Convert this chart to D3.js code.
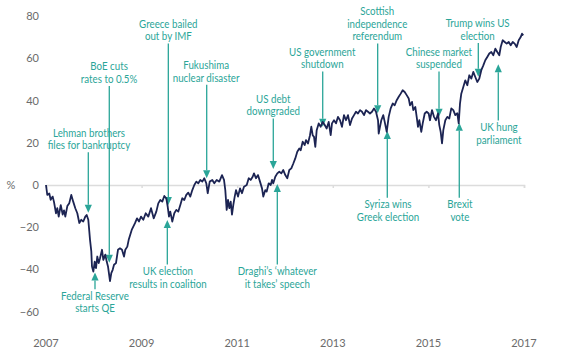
<!DOCTYPE html>
<html><head><meta charset="utf-8">
<script src="https://cdn.jsdelivr.net/npm/d3@7"></script>
<style>
body{margin:0;background:#fff;}
svg{display:block;}
</style></head><body>
<svg id="chart" width="570" height="359"></svg>
<script>
// ---- data (x in axis-years as shown on the chart, y in %) ----
const xTicks = [2007, 2009, 2011, 2013, 2015, 2017];
const yTicks = [-60, -40, -20, 0, 20, 40, 60, 80];
const dates = [0,0.027,0.069,0.098,0.140,0.167,0.209,0.236,0.266,0.308,0.349,0.377,0.404,0.446,0.487,0.529,0.571,0.613,0.655,0.697,0.738,0.780,0.822,0.851,0.885,0.906,0.921,0.948,0.962,0.990,1.019,1.046,1.073,1.103,1.130,1.172,1.199,1.241,1.270,1.297,1.339,1.366,1.395,1.423,1.464,1.506,1.548,1.590,1.632,1.659,1.701,1.730,1.793,1.862,1.904,1.946,1.987,2.036,2.086,2.140,2.197,2.253,2.308,2.349,2.391,2.433,2.475,2.517,2.546,2.573,2.600,2.642,2.684,2.726,2.768,2.810,2.851,2.893,2.935,2.977,3.019,3.061,3.103,3.144,3.186,3.228,3.270,3.312,3.354,3.383,3.425,3.479,3.521,3.571,3.626,3.682,3.724,3.751,3.780,3.808,3.835,3.864,3.891,3.918,3.948,3.975,4.017,4.059,4.100,4.142,4.199,4.241,4.282,4.324,4.351,4.393,4.435,4.477,4.519,4.546,4.588,4.617,4.659,4.701,4.728,4.755,4.797,4.839,4.881,4.923,4.964,5.006,5.048,5.090,5.132,5.174,5.215,5.257,5.299,5.328,5.370,5.412,5.439,5.481,5.523,5.550,5.579,5.607,5.634,5.663,5.705,5.747,5.789,5.831,5.872,5.914,5.956,5.983,6.025,6.067,6.109,6.151,6.192,6.234,6.276,6.318,6.360,6.402,6.444,6.485,6.527,6.569,6.611,6.653,6.695,6.736,6.778,6.820,6.862,6.904,6.946,6.960,6.987,7.015,7.056,7.086,7.128,7.169,7.211,7.253,7.295,7.337,7.379,7.421,7.462,7.504,7.546,7.588,7.615,7.657,7.684,7.726,7.755,7.782,7.810,7.851,7.881,7.923,7.964,8.006,8.033,8.075,8.117,8.159,8.201,8.228,8.257,8.285,8.312,8.354,8.395,8.437,8.479,8.521,8.563,8.605,8.634,8.661,8.688,8.730,8.772,8.814,8.856,8.897,8.939,8.981,9.023,9.065,9.107,9.149,9.190,9.232,9.274,9.316,9.358,9.400,9.441,9.483,9.513,9.554,9.596,9.638,9.680,9.722,9.764,9.805,9.847,9.889,9.931,9.958,9.985].map(d => 2007 + d);
const values = [0,-4.7,-4,-7,-5.5,-8,-13.4,-11,-15,-9.5,-14,-12,-15,-10,-8.6,-4.7,-8,-11,-13.4,-18,-16.5,-17.3,-15,-14.2,-16.5,-22,-26,-31.5,-38.6,-41,-36.3,-39.4,-33.9,-37,-34.7,-30.7,-35.5,-33,-36.3,-38.6,-45.5,-41.8,-40.2,-37.8,-37,-30.7,-30,-30.7,-33.9,-30.7,-29.2,-26,-21.3,-18.1,-15.8,-17.3,-15,-16.5,-13.4,-15,-11,-15.8,-12.6,-8.7,-7.1,-7.9,-5.2,-6.3,-10.2,-15,-12.6,-17.3,-13.4,-11.8,-12.6,-9.5,-6.3,-7.1,-4.7,-3.6,-5.5,-2.4,0,1.6,0.8,2.4,1.6,3.2,0.8,-3.9,1.6,2.4,0.8,2.4,1.6,4.7,2.4,-2.4,-11.8,-7.1,-11,-7.9,-14,-9.5,-5.5,-2.4,-5.5,-1.6,-3.9,-0.8,0,3.2,2.4,3.9,5.5,3.2,4.7,1.6,-1.6,-5.5,-2.4,-3.1,0.8,0,2.4,0.8,3.9,5.5,6.3,5.5,7.1,4.7,3.2,7.1,7.9,10.2,12.6,15.8,17.3,16.5,20.5,18.9,21.3,19.7,23.6,27.6,23.6,22.8,18.1,26,29.2,27.6,29.9,28.4,26.8,29.9,23.6,29.2,30.7,29.2,32.3,30.7,27.6,33.1,30.7,33.1,28.4,31.5,33.1,34.7,33.9,35.5,34.7,33.1,35.5,34.7,33.9,34.7,36.3,34.7,30.7,24.4,27.6,30.7,33.1,29.9,25.2,32.3,36.3,38.6,37.8,40.2,41.8,43.3,44.9,44.1,42.6,41,37.8,39.4,35.5,37,32.3,27.6,30.7,25.2,29.2,33.9,34.7,33.9,30.7,35.5,32.3,30.7,33.9,28.4,25.2,19.7,26,30.7,32.3,31.5,36.3,35.5,33.1,34,29.2,38.6,43.3,46.5,49.6,47.3,52,50.4,53.6,51.2,48.8,50.4,54.4,56.7,59.1,60.7,62.3,63,61.5,64.6,63,61.5,65.4,68.6,67.8,67,67.8,66.2,67.8,67,65.4,68.6,70.1,71.7,70.9];

// annotations: date (axis-years), label lines, first label line value (%), arrow tip value (%), direction
const annLabels = [
  ["Lehman brothers", "files for bankruptcy"],
  ["BoE cuts", "rates to 0.5%"],
  ["Federal Reserve", "starts QE"],
  ["Greece bailed", "out by IMF"],
  ["UK election", "results in coalition"],
  ["Fukushima", "nuclear disaster"],
  ["US debt", "downgraded"],
  ["Draghi\u2019s \u2018whatever", "it takes\u2019 speech"],
  ["US government", "shutdown"],
  ["Scottish", "independence", "referendum"],
  ["Syriza wins", "Greek election"],
  ["Chinese market", "suspended"],
  ["Brexit", "vote"],
  ["Trump wins US", "election"],
  ["UK hung", "parliament"]
];
const annDates  = [2007.885, 2008.324, 2008.025, 2009.559, 2009.538, 2010.362, 2011.755, 2011.839, 2012.789, 2013.939, 2014.140, 2015.222, 2015.646, 2016.044, 2016.462];
const annTextDates = [2007.90, 2008.32, 2008.025, 2009.559, 2009.55, 2010.35, 2011.755, 2011.839, 2012.78, 2013.93, 2014.155, 2015.22, 2015.66, 2016.03, 2016.475];
const annTextV  = [24.75, 56.15, -52.75, 76.25, -40.95, 56.65, 40.75, -40.95, 62.95, 82.1, -9.35, 62.95, -9.35, 76.45, 27.25];
const annTipV   = [-13.1, -36.8, -41.5, -9.5, -16.6, 3.2, 7.6, 0.5, 27.6, 34.0, 25.6, 32.3, 29.5, 51.3, 57.2];
const annDir    = ["down","down","up","down","up","down","down","up","down","down","up","down","up","down","up"];

// ---- drawing ----
const svg = d3.select("#chart");
const x = d3.scaleLinear().domain([2007, 2017]).range([46, 524]);
const y = d3.scaleLinear().domain([-60, 80]).range([311.6, 16.2]);
const teal = "#2aa598";
const grey = "#6b6b6b";
const font = "Lato, 'Open Sans', sans-serif";
const lh = 12.4;

// zero line with x axis ticks
const xAxis = d3.axisBottom(x).tickValues(xTicks).tickSize(3).tickFormat("");
const gx = svg.append("g").attr("transform", `translate(0,${y(0)})`).call(xAxis);
gx.select(".domain").attr("stroke", "#dcdcdc").attr("stroke-width", 1.5);
gx.selectAll(".tick line").attr("stroke", "#dcdcdc").attr("stroke-width", 1.5);

// x labels
svg.append("g").selectAll("text").data(xTicks).join("text")
  .attr("x", d => x(d)).attr("y", 343).attr("dy", "0.35em")
  .attr("text-anchor", "middle")
  .attr("font-family", font).attr("font-size", 11)
  .attr("fill", grey).text(d => d);

// y labels
const yAxis = d3.axisLeft(y).tickValues(yTicks).tickSize(0).tickPadding(0);
const gy = svg.append("g").attr("transform", "translate(39,0)").call(yAxis);
gy.select(".domain").remove();
gy.selectAll("text").attr("font-family", font).attr("font-size", 11).attr("fill", grey);

svg.append("text").attr("x", 11).attr("y", y(0)).attr("dy", "0.35em")
  .attr("text-anchor", "middle")
  .attr("font-family", font).attr("font-size", 11)
  .attr("fill", grey).text("%");

// annotations
const ann = annLabels.map((lines, i) => ({lines, d: annDates[i], td: annTextDates[i], tv: annTextV[i], tip: annTipV[i], dir: annDir[i]}));
const ga = svg.append("g");
ann.forEach(a => {
  const ax = x(a.d);
  const ty = y(a.tv);
  const tipY = y(a.tip);
  const n = a.lines.length;
  const startY = a.dir === "down" ? ty + (n - 1) * lh + 7 : ty - 7;
  const headH = 8, headW = 3.6;
  const baseY = a.dir === "down" ? tipY - headH : tipY + headH;
  ga.append("line").attr("x1", ax).attr("x2", ax).attr("y1", startY).attr("y2", baseY)
    .attr("stroke", teal).attr("stroke-width", 1.3);
  ga.append("path")
    .attr("d", `M${ax - headW},${baseY}L${ax + headW},${baseY}L${ax},${tipY}Z`)
    .attr("fill", teal);
  const t = ga.append("text")
    .attr("transform", `translate(${x(a.td)},${ty}) scale(0.92,1)`)
    .attr("text-anchor", "middle")
    .attr("font-family", font).attr("font-size", 10.6)
    .attr("fill", teal);
  a.lines.forEach((s, j) => {
    t.append("tspan").attr("x", 0).attr("y", j * lh).attr("dy", "0.35em").text(s);
  });
});

// series line
const data = dates.map((d, i) => ({d, v: values[i]}));
const line = d3.line().x(p => x(p.d)).y(p => y(p.v));
svg.append("path").datum(data).attr("d", line)
  .attr("fill", "none").attr("stroke", "#1c2453").attr("stroke-width", 1.8)
  .attr("stroke-linejoin", "round");
</script>
</body></html>
